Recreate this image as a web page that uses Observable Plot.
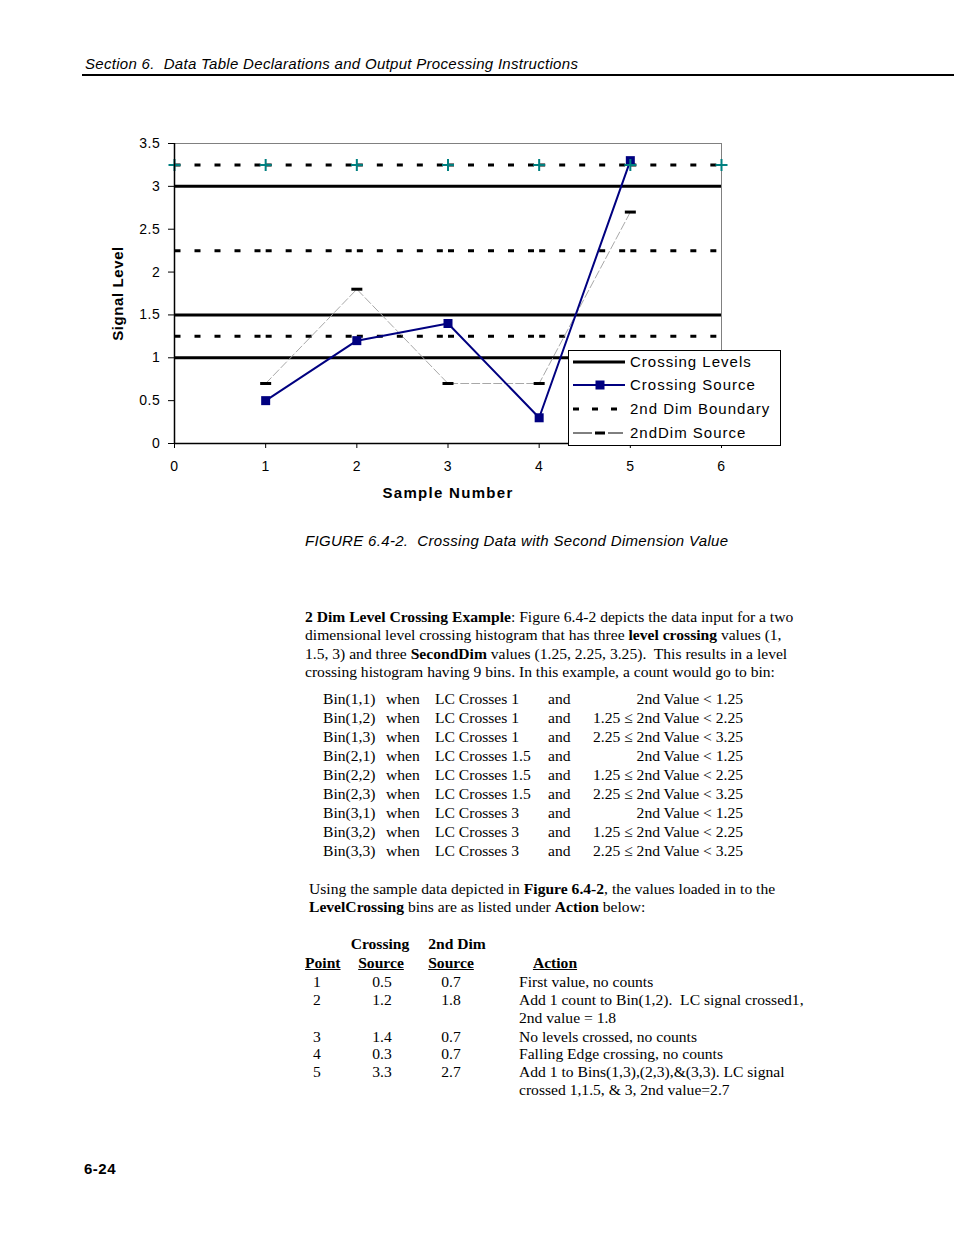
<!DOCTYPE html>
<html><head><meta charset="utf-8">
<script src="https://cdn.jsdelivr.net/npm/d3@7"></script>
<script src="https://cdn.jsdelivr.net/npm/@observablehq/plot@0.6"></script>
<style>
html,body{margin:0;padding:0;background:#fff;}
body{width:954px;height:1235px;position:relative;overflow:hidden;color:#000;}
.a{position:absolute;white-space:pre;}
.sans{font-family:"Liberation Sans",Arial,sans-serif;}
.serif{font-family:"Liberation Serif","Times New Roman",serif;font-size:15.6px;line-height:18px;}
#chart{position:absolute;left:100px;top:130px;}
#chart svg text{letter-spacing:0.6px;}
#chart svg text.lbl{letter-spacing:1.3px;}
#legend{position:absolute;left:568px;top:350px;width:213px;height:96px;box-sizing:border-box;border:1px solid #000;background:#fff;}
#legend .row{position:absolute;left:4px;height:20px;}
#legend svg{position:absolute;left:0;top:4px;}
#legend span{position:absolute;left:57px;top:0;font-family:"Liberation Sans",Arial,sans-serif;font-size:15px;line-height:20px;letter-spacing:1px;white-space:pre;}
.u{text-decoration:underline;}
</style></head><body>
<div id="chart"></div>
<script>
// ---- chart data ----
const xTicks = [0, 1, 2, 3, 4, 5, 6];
const yTicks = [0, 0.5, 1, 1.5, 2, 2.5, 3, 3.5];
const samples = [1, 2, 3, 4, 5];
const crossingSource = [0.5, 1.2, 1.4, 0.3, 3.3];
const secondDimSource = [0.7, 1.8, 0.7, 0.7, 2.7];
const crossingLevels = [1, 1.5, 3];
const secondDimBoundaries = [1.25, 2.25, 3.25];
const legendLabels = ["Crossing Levels", "Crossing Source", "2nd Dim Boundary", "2ndDim Source"];

// ---- text data ----
const headerText = "Section 6.  Data Table Declarations and Output Processing Instructions";
const captionText = "FIGURE 6.4-2.  Crossing Data with Second Dimension Value";
const para1 = [
  "<b>2 Dim Level Crossing Example</b>: Figure 6.4-2 depicts the data input for a two",
  "dimensional level crossing histogram that has three <b>level crossing</b> values (1,",
  "1.5, 3) and three <b>SecondDim</b> values (1.25, 2.25, 3.25).  This results in a level",
  "crossing histogram having 9 bins. In this example, a count would go to bin:"
];
const lcLevels = ["1", "1.5", "3"];
const dimConds = ["2nd Value < 1.25", "1.25 \u2264 2nd Value < 2.25", "2.25 \u2264 2nd Value < 3.25"];
const para2 = [
  "Using the sample data depicted in <b>Figure 6.4-2</b>, the values loaded in to the",
  "<b>LevelCrossing</b> bins are as listed under <b>Action</b> below:"
];
const actions = [
  ["First value, no counts"],
  ["Add 1 count to Bin(1,2).  LC signal crossed1,", "2nd value = 1.8"],
  ["No levels crossed, no counts"],
  ["Falling Edge crossing, no counts"],
  ["Add 1 to Bins(1,3),(2,3),&(3,3). LC signal", "crossed 1,1.5, & 3, 2nd value=2.7"]
];
const pageNumber = "6-24";

// ---- symbols ----
const squareSym = {draw(ctx) { ctx.rect(-4.5, -4.5, 9, 9); }};
const dashSym = {draw(ctx) { ctx.rect(-5.5, -1.5, 11, 3); }};
const plusSym = {draw(ctx) { ctx.moveTo(-6, 0); ctx.lineTo(6, 0); ctx.moveTo(0, -6); ctx.lineTo(0, 6); }};

const boundarySegs = secondDimBoundaries.flatMap(b => xTicks.slice(0, -1).map(i => ({x1: i, x2: i + 1, y: b})));

const chart = Plot.plot({
  width: 700, height: 380,
  marginLeft: 74, marginRight: 79, marginTop: 13, marginBottom: 67,
  style: {fontFamily: "Liberation Sans, Arial, sans-serif", fontSize: "14px", color: "#000", background: "transparent", overflow: "visible"},
  x: {domain: [0, 6]},
  y: {domain: [0, 3.5]},
  marks: [
    Plot.ruleY([3.5], {stroke: "#808080", strokeWidth: 1}),
    Plot.ruleX([6], {stroke: "#808080", strokeWidth: 1}),
    Plot.link(boundarySegs, {x1: "x1", x2: "x2", y1: "y", y2: "y", stroke: "#000", strokeWidth: 3, strokeDasharray: "6,14"}),
    Plot.ruleY(crossingLevels, {stroke: "#000", strokeWidth: 3}),
    Plot.line(samples, {x: samples, y: secondDimSource, stroke: "#a8a8a8", strokeWidth: 1, strokeDasharray: "8,3"}),
    Plot.dot(samples, {x: samples, y: secondDimSource, symbol: dashSym, fill: "#000", stroke: "none", r: 4}),
    Plot.line(samples, {x: samples, y: crossingSource, stroke: "#000080", strokeWidth: 2}),
    Plot.dot(samples, {x: samples, y: crossingSource, symbol: squareSym, fill: "#000080", stroke: "none", r: 4}),
    Plot.dot(xTicks, {x: xTicks, y: xTicks.map(() => secondDimBoundaries[2]), symbol: plusSym, fill: "none", stroke: "#008080", strokeWidth: 2, r: 4}),
    Plot.ruleX([0], {stroke: "#000", strokeWidth: 1.5}),
    Plot.ruleY([0], {stroke: "#000", strokeWidth: 1.5}),
    Plot.axisY(yTicks, {tickSize: 6, tickPadding: 8, tickFormat: d => String(d), label: null, fontSize: 14}),
    Plot.axisX(xTicks, {tickSize: 5, tickPadding: 13, tickFormat: d => String(d), label: null, fontSize: 14}),
    Plot.text(["Signal Level"], {frameAnchor: "left", textAnchor: "middle", dx: -56, rotate: -90, fontWeight: "bold", fontSize: 15}),
    Plot.text(["Sample Number"], {frameAnchor: "bottom", textAnchor: "middle", dy: 54, fontWeight: "bold", fontSize: 15, className: "lbl"})
  ]
});
document.getElementById("chart").appendChild(chart);
// wider letter-spacing for the x axis title (the className option sits on the mark's group)
chart.querySelectorAll("g.lbl text").forEach(t => t.classList.add("lbl"));

// ---- legend ----
const legend = document.createElement("div");
legend.id = "legend";
const swatches = [
  '<line x1="0" y1="6" x2="52" y2="6" stroke="#000" stroke-width="3"/>',
  '<line x1="0" y1="6" x2="52" y2="6" stroke="#000080" stroke-width="2"/><rect x="22.5" y="1.5" width="9" height="9" fill="#000080"/>',
  '<line x1="0" y1="6" x2="52" y2="6" stroke="#000" stroke-width="3" stroke-dasharray="6,13"/>',
  '<line x1="0" y1="6" x2="19" y2="6" stroke="#000" stroke-width="1"/><line x1="35" y1="6" x2="50" y2="6" stroke="#000" stroke-width="1"/><rect x="22" y="4.5" width="10" height="3" fill="#000"/>'
];
const rowCenters = [12, 35, 59, 83];
legendLabels.forEach((lab, i) => {
  const r = document.createElement("div");
  r.className = "row";
  r.style.top = (rowCenters[i] - 10 - 1) + "px";
  r.innerHTML = `<svg width="52" height="12">${swatches[i]}</svg><span>${lab}</span>`;
  legend.appendChild(r);
});
document.body.appendChild(legend);

// ---- page text ----
function place(html, x, yc, cls, opts = {}) {
  const d = document.createElement("div");
  d.className = "a " + cls;
  d.innerHTML = html;
  const lh = opts.lh || 18;
  d.style.top = (yc - lh / 2) + "px";
  d.style.lineHeight = lh + "px";
  if (opts.size) d.style.fontSize = opts.size + "px";
  if (opts.style) d.style.cssText += opts.style;
  if (opts.align === "center") {
    d.style.left = (x - 100) + "px"; d.style.width = "200px"; d.style.textAlign = "center";
  } else if (opts.align === "right") {
    d.style.left = (x - 300) + "px"; d.style.width = "300px"; d.style.textAlign = "right";
  } else {
    d.style.left = x + "px";
  }
  document.body.appendChild(d);
  return d;
}

place(headerText, 85, 64, "sans", {size: 15, style: "font-style:italic;letter-spacing:0.3px;"});
const rule = document.createElement("div");
rule.style.cssText = "position:absolute;left:82px;top:74px;width:872px;height:2px;background:#000;";
document.body.appendChild(rule);

place(captionText, 305, 541, "sans", {size: 15, style: "font-style:italic;letter-spacing:0.32px;"});

const p1y = [617, 635, 654, 672];
para1.forEach((t, i) => place(t, 305, p1y[i], "serif"));

let bi = 0;
lcLevels.forEach((lv, i) => {
  dimConds.forEach((cond, j) => {
    const y = 699 + bi * 19;
    place(`Bin(${i + 1},${j + 1})`, 323, y, "serif");
    place("when", 386, y, "serif");
    place(`LC Crosses ${lv}`, 435, y, "serif");
    place("and", 548, y, "serif");
    place(cond, 743, y, "serif", {align: "right"});
    bi++;
  });
});

const p2y = [889, 907];
para2.forEach((t, i) => place(t, 309, p2y[i], "serif"));

place("<b>Crossing</b>", 380, 944, "serif", {align: "center"});
place("<b>2nd Dim</b>", 457, 944, "serif", {align: "center"});
place('<b class="u">Point</b>', 305, 963, "serif");
place('<b class="u">Source</b>', 381, 963, "serif", {align: "center"});
place('<b class="u">Source</b>', 451, 963, "serif", {align: "center"});
place('<b class="u">Action</b>', 555, 963, "serif", {align: "center"});

const rowY = [982, 1000, 1037, 1054, 1072];
samples.forEach((p, i) => {
  const y = rowY[i];
  place(String(p), 317, y, "serif", {align: "center"});
  place(String(crossingSource[i]), 382, y, "serif", {align: "center"});
  place(String(secondDimSource[i]), 451, y, "serif", {align: "center"});
  actions[i].forEach((line, k) => place(line, 519, y + k * 18, "serif"));
});

place(pageNumber, 84, 1169, "sans", {size: 15, style: "font-weight:bold;letter-spacing:0.5px;"});
</script>
</body></html>
